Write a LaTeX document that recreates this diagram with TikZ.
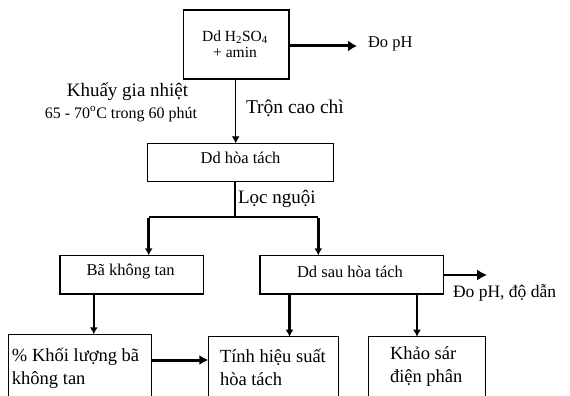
\documentclass[tikz,border=0pt]{standalone}
\usepackage{fontspec}
\setmainfont{Liberation Serif}
\usetikzlibrary{arrows.meta}
\begin{document}
\begin{tikzpicture}[x=1pt,y=-1pt,
  box/.style={draw, line width=1.3pt, anchor=north west, inner sep=0pt, outer sep=0pt},
  thinline/.style={line width=1.1pt},
  heavy/.style={line width=2.6pt},
  midline/.style={line width=1.5pt},
  tipsmall/.style={-{Latex[length=7pt,width=8pt]}},
  tipbig/.style={-{Latex[length=10pt,width=11pt]}},
  lbl/.style={inner sep=0pt, outer sep=0pt},
  fs/.style={font=\fontsize{#1}{#1}\selectfont}
]
\useasboundingbox (0,0) rectangle (570,396);
\clip (0,0) rectangle (570,396);

% boxes
\node[box, minimum width=105.7pt, minimum height=69pt] (top) at (183.3,10) {};
\node[box, minimum width=185.6pt, minimum height=38.4pt] (hoa) at (147.7,143.3) {};
\node[box, minimum width=143.3pt, minimum height=38.7pt] (ba) at (60,255.3) {};
\node[box, minimum width=183.3pt, minimum height=38.7pt] (sau) at (260,255.3) {};
\node[box, minimum width=143.4pt, minimum height=90pt] (kl) at (8.3,334.3) {};
\node[box, minimum width=130pt, minimum height=90pt] (hs) at (208.3,336.7) {};
\node[box, minimum width=117.4pt, minimum height=90pt] (dp) at (368.3,336.7) {};

% texts in boxes
\node[lbl, fs=15.5, align=center] (toptxt) at (235,44) {Dd H\textsubscript{2}SO\textsubscript{4}\\[1pt]+ amin};
\node[lbl, fs=16.5] (hoatxt) at (240.5,157.7) {Dd hòa tách};
\node[lbl, fs=16.5] (batxt) at (130.7,271.7) {Bã không tan};
\node[lbl, fs=16.5] (sautxt) at (350,272) {Dd sau hòa tách};
\node[lbl, fs=18.5, align=left, anchor=west] (kltxt) at (12,368.3) {\% Khối lượng bã\\[4.5pt]không tan};
\node[lbl, fs=18.5, align=left, anchor=west] (hstxt) at (220,367.5) {Tính hiệu suất\\[4.5pt]hòa tách};
\node[lbl, fs=18.5, align=left, anchor=west] (dptxt) at (390,366.5) {Khảo sár\\[4.5pt]điện phân};

% free labels
\node[lbl, fs=16.5, anchor=west] (dopH) at (368,44) {Đo pH};
\node[lbl, fs=19] (khuay) at (127.5,91.7) {Khuấy gia nhiệt};
\node[lbl, fs=16] (nhiet) at (121,114) {65 - 70\textsuperscript{o}C trong 60 phút};
\node[lbl, fs=19.5, anchor=west] (tron) at (246,108) {Trộn cao chì};
\node[lbl, fs=19, anchor=west] (loc) at (238,199) {Lọc nguội};
\node[lbl, fs=17.5, anchor=west] (dopH2) at (453,293) {Đo pH, độ dẫn};

% helper coordinates
\coordinate (split) at (235,216.5);
\coordinate (bl) at (148.7,216.5);
\coordinate (br) at (318.3,216.5);
\coordinate (ph1) at (357,46);
\coordinate (ph2) at (487,275);

% connectors
\draw[thinline, tipsmall] (top.south -| 235.7,0) -- (hoa.north -| 235.7,0);
\draw[line width=3pt, -{Latex[length=9pt,width=11pt]}] (top.east |- ph1) -- (ph1);
\draw[thinline] (hoa.south -| split) -- (split);
\draw[line width=2pt] (bl) -- (br);
\draw[heavy, tipsmall] ([yshift=-1pt]bl) -- (ba.north -| bl);
\draw[heavy, tipsmall] ([yshift=-1pt]br) -- (sau.north -| br);
\draw[midline, tipbig] (sau.east |- ph2) -- (ph2);
\draw[heavy, tipsmall] (ba.south -| 93.8,0) -- (kl.north -| 93.8,0);
\draw[heavy, tipsmall] (sau.south -| 289.5,0) -- (hs.north -| 289.5,0);
\draw[heavy, tipsmall] (sau.south -| 417,0) -- (dp.north -| 417,0);
\draw[line width=3pt, -{Latex[length=9pt,width=10pt]}] (kl.east |- 0,360) -- (hs.west |- 0,360);
\end{tikzpicture}
\end{document}
